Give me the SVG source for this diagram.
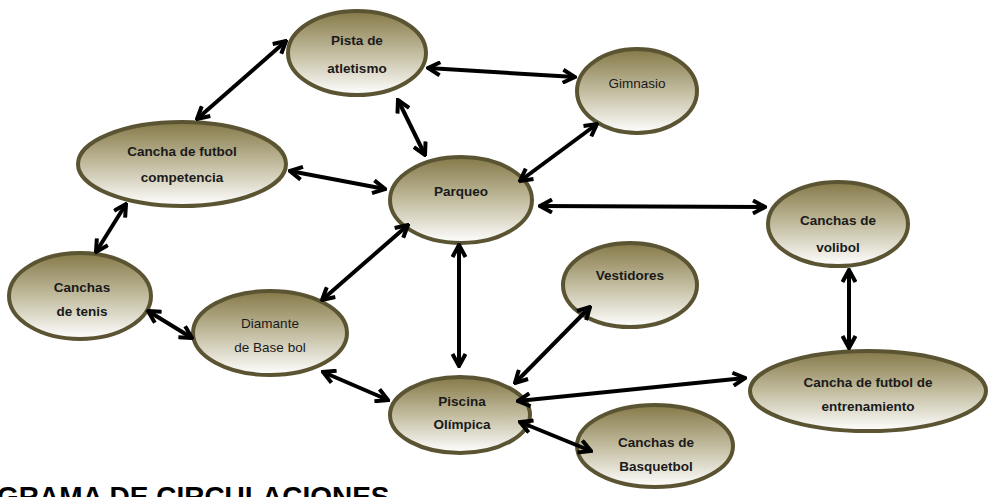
<svg xmlns="http://www.w3.org/2000/svg" width="992" height="497" viewBox="0 0 992 497">
<style>
.node ellipse{fill:url(#g);stroke:#5b5433;stroke-width:4}
.node text{font-family:"Liberation Sans",Arial,sans-serif;font-size:13.5px;font-weight:bold;fill:#1a1a1a;text-anchor:middle}
.node text.n{font-weight:normal}
.c line{stroke:#000;stroke-width:4;marker-start:url(#a);marker-end:url(#a)}
.title{font-family:"Liberation Sans",Arial,sans-serif;font-weight:bold;font-size:28px;fill:#000}
</style>
<defs>
<linearGradient id="g" x1="0" y1="0" x2="0" y2="1">
<stop offset="0" stop-color="#857948"/>
<stop offset="0.5" stop-color="#c2bc9f"/>
<stop offset="1" stop-color="#ffffff"/>
</linearGradient>
<marker id="a" viewBox="0 0 16 16" refX="14" refY="8" markerWidth="16" markerHeight="16" markerUnits="userSpaceOnUse" orient="auto-start-reverse">
<path d="M2,1.5 L14,8 L2,14.5" fill="none" stroke="#000" stroke-width="4"/>
</marker>
</defs>
<rect width="992" height="497" fill="#fff"/>
<g id="pista" class="node"><ellipse cx="357" cy="53" rx="69" ry="42"/><text x="357" y="45">Pista de</text><text x="357" y="73">atletismo</text></g>
<g id="gimnasio" class="node"><ellipse cx="637" cy="91" rx="60" ry="42"/><text class="n" x="637" y="88">Gimnasio</text></g>
<g id="competencia" class="node"><ellipse cx="182" cy="164" rx="104" ry="42"/><text x="182" y="156">Cancha de futbol</text><text x="182" y="182">competencia</text></g>
<g id="parqueo" class="node"><ellipse cx="461" cy="200" rx="71" ry="43"/><text x="461" y="196">Parqueo</text></g>
<g id="volibol" class="node"><ellipse cx="838" cy="224" rx="70" ry="42"/><text x="838" y="225">Canchas de</text><text x="838" y="252">volibol</text></g>
<g id="tenis" class="node"><ellipse cx="80" cy="296" rx="71" ry="43"/><text x="82" y="292">Canchas</text><text x="82" y="316">de tenis</text></g>
<g id="diamante" class="node"><ellipse cx="270" cy="333" rx="77" ry="42"/><text class="n" x="270" y="328">Diamante</text><text class="n" x="270" y="352">de Base bol</text></g>
<g id="vestidores" class="node"><ellipse cx="630" cy="285" rx="67" ry="42"/><text x="630" y="280">Vestidores</text></g>
<g id="piscina" class="node"><ellipse cx="460" cy="415" rx="70" ry="38"/><text x="462" y="406">Piscina</text><text x="462" y="429">Olímpica</text></g>
<g id="entrenamiento" class="node"><ellipse cx="868" cy="391" rx="118" ry="40"/><text x="868" y="387">Cancha de futbol de</text><text x="868" y="411">entrenamiento</text></g>
<g id="basquetbol" class="node"><ellipse cx="655" cy="446" rx="78" ry="41"/><text x="656" y="447">Canchas de</text><text x="656" y="471">Basquetbol</text></g>
<g id="connectors" class="c">
<line x1="286" y1="41" x2="197" y2="119"/>
<line x1="428" y1="68" x2="575" y2="77"/>
<line x1="398" y1="100" x2="425" y2="155"/>
<line x1="597" y1="124" x2="520" y2="181"/>
<line x1="290" y1="171" x2="385" y2="189"/>
<line x1="540" y1="206" x2="765" y2="207"/>
<line x1="126" y1="204" x2="96" y2="252"/>
<line x1="408" y1="225" x2="322" y2="300"/>
<line x1="459" y1="245" x2="459" y2="366"/>
<line x1="148" y1="311" x2="192" y2="338"/>
<line x1="323" y1="372" x2="388" y2="400"/>
<line x1="590" y1="307" x2="515" y2="383"/>
<line x1="849" y1="270" x2="849" y2="348"/>
<line x1="518" y1="401" x2="745" y2="378"/>
<line x1="520" y1="422" x2="591" y2="451"/>
</g>
<text class="title" x="-3" y="506">GRAMA DE CIRCULACIONES</text>
</svg>
